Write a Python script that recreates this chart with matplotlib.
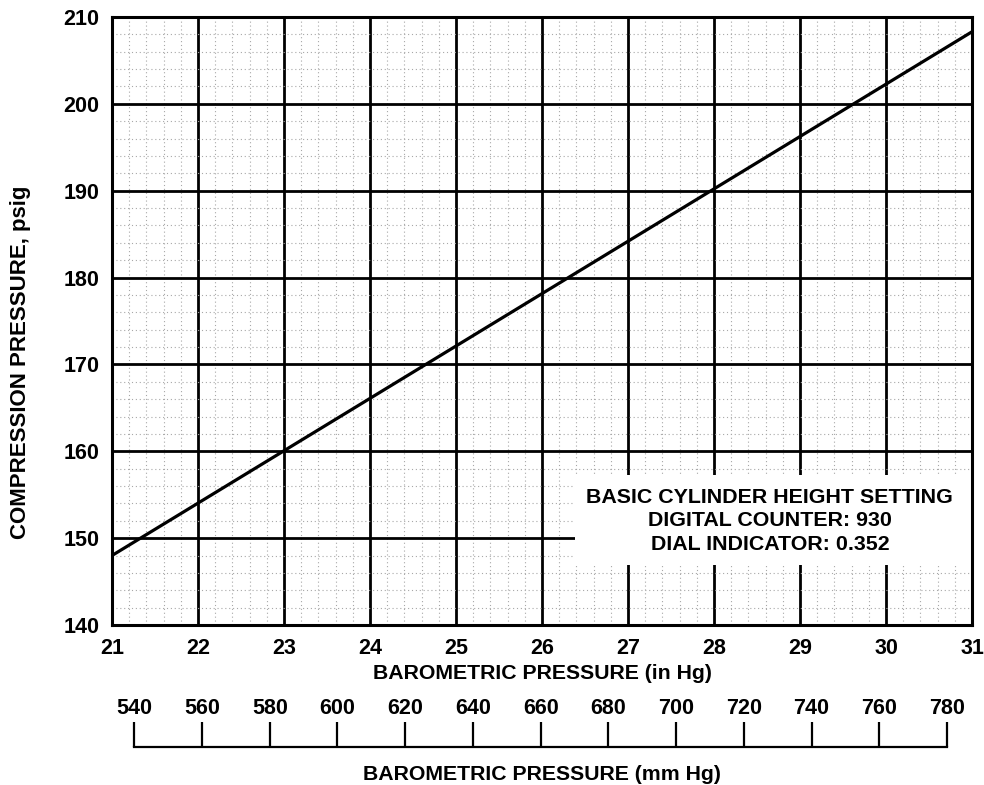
import matplotlib
matplotlib.use("Agg")
import matplotlib.pyplot as plt
from matplotlib.patches import Rectangle
from matplotlib.ticker import MultipleLocator

plt.rcParams['font.family'] = ['Liberation Sans', 'DejaVu Sans']
plt.rcParams['font.weight'] = 'bold'

# data
baro_inhg = [21, 31]
comp_psig = [148.0, 208.3]

x_ticks = [21, 22, 23, 24, 25, 26, 27, 28, 29, 30, 31]
y_ticks = [140, 150, 160, 170, 180, 190, 200, 210]
mm_ticks = [540, 560, 580, 600, 620, 640, 660, 680, 700, 720, 740, 760, 780]
MM_PER_IN = 25.4

note_lines = ["BASIC CYLINDER HEIGHT SETTING",
              "DIGITAL COUNTER: 930",
              "DIAL INDICATOR: 0.352"]

W, H = 984, 785
fig = plt.figure(figsize=(W / 100, H / 100), dpi=100)

# main chart
ax = fig.add_axes([112 / W, 1 - 625 / H, 860 / W, 608 / H])
ax.set_xlim(21, 31)
ax.set_ylim(140, 210)
ax.set_xticks(x_ticks)
ax.set_yticks(y_ticks)
ax.xaxis.set_minor_locator(MultipleLocator(0.2))
ax.yaxis.set_minor_locator(MultipleLocator(2))
ax.set_axisbelow(True)
ax.grid(which='major', color='black', linewidth=2.0)
ax.grid(which='minor', color='#a8a8a8', linewidth=0.8, linestyle=(0, (1, 2.5)))
ax.tick_params(which='both', length=0, labelsize=15.5, pad=9)
for s in ax.spines.values():
    s.set_linewidth(2.2)

ax.plot(baro_inhg, comp_psig, color='black', linewidth=2.3, zorder=3)

# white box for the note
ax.add_patch(Rectangle((26.38, 146.9), 31 - 26.38, 157.3 - 146.9,
                       facecolor='white', edgecolor='none', zorder=1.5))
ax.text(28.65, 151.98, "\n".join(note_lines), ha='center', va='center',
        fontsize=15.4, fontweight='bold', linespacing=1.32, zorder=4)

ax.set_xlabel("BAROMETRIC PRESSURE (in Hg)", fontsize=15.3, fontweight='bold', labelpad=4)
fig.text(21 / W, 1 - 362 / H, "COMPRESSION PRESSURE, psig", rotation=90,
         ha='center', va='center', fontsize=16, fontweight='bold')

# secondary mm Hg scale
ax2 = fig.add_axes([112 / W, 1 - 747 / H, 860 / W, 25 / H])
ax2.set_xlim(21 * MM_PER_IN, 31 * MM_PER_IN)
ax2.set_ylim(0, 1)
ax2.patch.set_visible(False)
for side in ['top', 'left', 'right']:
    ax2.spines[side].set_visible(False)
ax2.spines['bottom'].set_bounds(mm_ticks[0], mm_ticks[-1])
ax2.spines['bottom'].set_linewidth(1.6)
ax2.set_yticks([])
ax2.set_xticks(mm_ticks)
ax2.tick_params(axis='x', direction='in', length=18, width=1.6,
                bottom=True, top=False, labelbottom=False, labeltop=True,
                labelsize=15.5, pad=2)
fig.text(ax2.get_position().x0 + ax2.get_position().width / 2, 1 - 775 / H,
         "BAROMETRIC PRESSURE (mm Hg)", ha='center', va='center',
         fontsize=15.3, fontweight='bold')

fig.savefig("out.png", dpi=100)
